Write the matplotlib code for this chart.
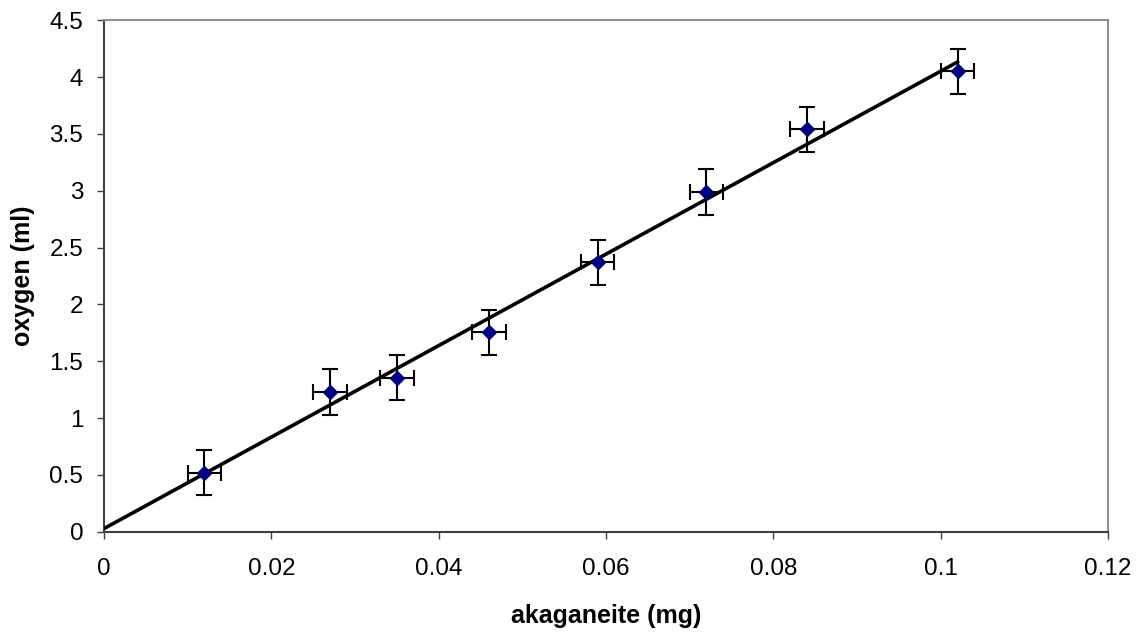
import numpy as np
import matplotlib
matplotlib.use("Agg")
import matplotlib.pyplot as plt

plt.rcParams['font.family'] = ['Liberation Sans', 'DejaVu Sans']

# data
akaganeite = [0.012, 0.027, 0.035, 0.046, 0.059, 0.072, 0.084, 0.102]
oxygen = [0.52, 1.23, 1.355, 1.755, 2.37, 2.99, 3.54, 4.05]
x_err = 0.002
y_err = 0.2

# linear trendline through the data
slope, intercept = np.polyfit(akaganeite, oxygen, 1)
fit_x = np.array([0.0, max(akaganeite)])
fit_y = slope * fit_x + intercept

fig = plt.figure(figsize=(11.43, 6.33), dpi=100)
ax = fig.add_axes([0.091, 0.16, 0.8785, 0.808])

ax.errorbar(akaganeite, oxygen, xerr=x_err, yerr=y_err, fmt='none',
            ecolor='black', elinewidth=1.5, capsize=5.8, capthick=1.5, zorder=2)
ax.plot(fit_x, fit_y, color='black', linewidth=2.6, zorder=3)
ax.plot(akaganeite, oxygen, linestyle='none', marker='D', markersize=7.5,
        color='#000080', zorder=4)

ax.set_xlim(0, 0.12)
ax.set_ylim(0, 4.5)
ax.set_xticks([0, 0.02, 0.04, 0.06, 0.08, 0.1, 0.12])
ax.set_xticklabels(['0', '0.02', '0.04', '0.06', '0.08', '0.1', '0.12'])
ax.set_yticks(np.arange(0, 4.51, 0.5))
ax.set_yticklabels(['0', '0.5', '1', '1.5', '2', '2.5', '3', '3.5', '4', '4.5'])

ax.tick_params(axis='both', labelsize=17.5, direction='out', length=5,
               width=1, color='#404040')
ax.tick_params(axis='x', pad=14)
ax.tick_params(axis='y', pad=10)

for side in ['left', 'bottom']:
    ax.spines[side].set_color('#404040')
    ax.spines[side].set_linewidth(1.5)
for side in ['top', 'right']:
    ax.spines[side].set_color('#909090')
    ax.spines[side].set_linewidth(1.5)

ax.set_xlabel('akaganeite (mg)', fontsize=18, fontweight='bold', labelpad=17)
ax.set_ylabel('oxygen (ml)', fontsize=18, fontweight='bold', labelpad=10)

fig.savefig('out.png', dpi=100)
